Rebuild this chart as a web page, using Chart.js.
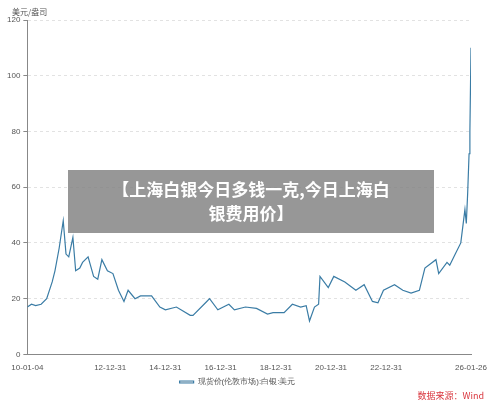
<!DOCTYPE html>
<html>
<head>
<meta charset="utf-8">
<script src="https://cdn.jsdelivr.net/npm/chart.js@4"></script>
<style>
  body { margin: 0; background: #fff; font-family: "Noto Sans CJK SC", sans-serif; }
  #wrap { position: relative; width: 500px; height: 406px; }
  #title {
    position: absolute; left: 68px; top: 170px; width: 366px; height: 63px;
    background: rgba(128,128,128,0.82); color: #fff; font-weight: bold;
    font-size: 17px; line-height: 24px; text-align: center; padding-top: 7px; box-sizing: border-box;
  }
  #unit { position: absolute; left: 12px; top: 6px; font-size: 8px; color: #555; }
  #source { position: absolute; right: 16px; top: 389px; font-size: 9px; color: #d9363e; }
</style>
</head>
<body>
<div id="wrap">
  <canvas id="myChart" width="500" height="406"></canvas>
  <div id="unit">美元/盎司</div>
  <div id="title">【上海白银今日多钱一克,今日上海白<br>银费用价】</div>
  <div id="source">数据来源：Wind</div>
</div>
<script>
// time as decimal years, values in USD/oz
const dates = [2010.0, 2010.15, 2010.3, 2010.5, 2010.7, 2010.9, 2011.0, 2011.15, 2011.3, 2011.4, 2011.5, 2011.65, 2011.75, 2011.9,
  2012.0, 2012.2, 2012.4, 2012.55, 2012.7, 2012.9, 2013.1, 2013.3, 2013.5, 2013.65, 2013.9, 2014.1, 2014.5, 2014.8,
  2015.0, 2015.4, 2015.9, 2016.0, 2016.5, 2016.6, 2016.9, 2017.3, 2017.5, 2017.9, 2018.3, 2018.7, 2018.9, 2019.3,
  2019.6, 2019.9, 2020.1, 2020.22, 2020.4, 2020.55, 2020.6, 2020.9, 2021.1, 2021.5, 2021.9, 2022.2, 2022.5, 2022.7,
  2022.9, 2023.3, 2023.6, 2023.9, 2024.2, 2024.4, 2024.8, 2024.9, 2025.2, 2025.3, 2025.5, 2025.7, 2025.8, 2025.85,
  2025.9, 2025.95, 2026.0, 2026.03, 2026.07];
const prices = [17, 18, 17.5, 18, 20, 26, 30, 38, 48, 36, 35, 42, 30, 31,
  33, 35, 28, 27, 34, 30, 29, 23, 19, 23, 20, 21, 21, 17,
  16, 17, 14, 14, 19, 20, 16, 18, 16, 17, 16.5, 14.5, 15, 15,
  18, 17, 17.5, 12, 17, 18, 28, 24, 28, 26, 23, 25, 19, 18.5,
  23, 25, 23, 22, 23, 31, 34, 29, 33, 32, 36, 40, 48, 52,
  47, 58, 72, 80, 110];
const tickValues = [2010.0, 2011.0, 2013.0, 2015.0, 2017.0, 2019.0, 2021.0, 2023.0, 2025.0, 2026.07];
const tickLabels = ["10-01-04", "", "12-12-31", "14-12-31", "16-12-31", "18-12-31", "20-12-31", "22-12-31", "", "26-01-26"];

const points = dates.map((d, i) => ({ x: d, y: prices[i] }));

new Chart(document.getElementById("myChart"), {
  type: "line",
  data: {
    datasets: [{
      label: "现货价(伦敦市场):白银:美元",
      data: points,
      borderColor: "#3a7ca5",
      borderWidth: 1.2,
      pointRadius: 0,
      tension: 0,
    }],
  },
  options: {
    responsive: false,
    animation: false,
    layout: { padding: { left: 4, right: 29, top: 20, bottom: 10 } },
    plugins: {
      legend: {
        position: "bottom",
        labels: { boxWidth: 14, boxHeight: 2, color: "#555", font: { size: 8 }, padding: 4 },
      },
      tooltip: { enabled: false },
    },
    scales: {
      x: {
        type: "linear",
        min: 2010.0,
        max: 2026.07,
        afterBuildTicks: (axis) => { axis.ticks = tickValues.map((v) => ({ value: v })); },
        ticks: {
          autoSkip: false, maxRotation: 0, color: "#555", font: { size: 8 }, padding: 1,
          callback: (v, i) => tickLabels[i],
        },
        grid: { display: false, drawTicks: true },
        border: { color: "#888" },
      },
      y: {
        min: 0,
        max: 120,
        ticks: { stepSize: 20, color: "#555", font: { size: 8 } },
        grid: { color: "#e2e2e2", tickColor: "#888", tickLength: 4 },
        border: { color: "#888", dash: [3, 3] },
      },
    },
  },
});
</script>
</body>
</html>
